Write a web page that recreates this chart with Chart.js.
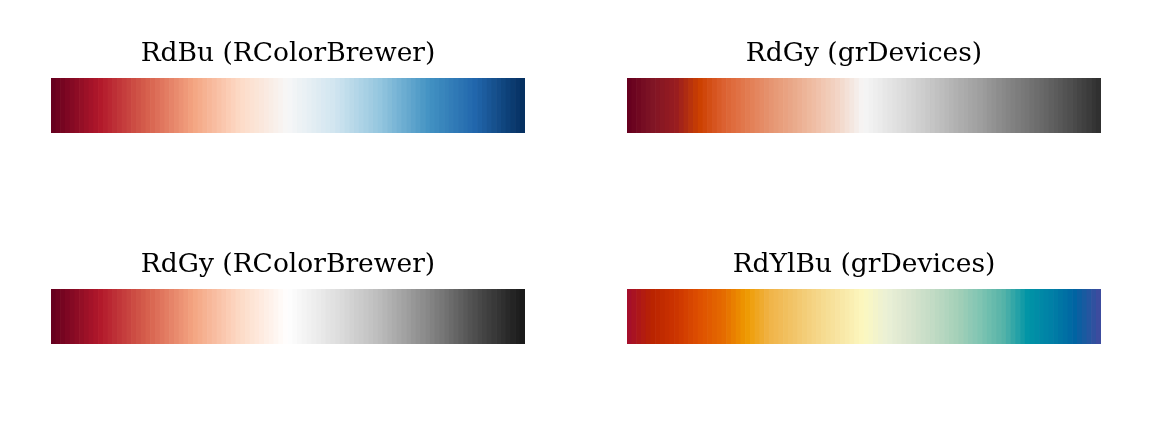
<!DOCTYPE html>
<html><head><meta charset="utf-8">
<script src="https://cdn.jsdelivr.net/npm/chart.js@4.4.1/dist/chart.umd.min.js"></script>
<style>
html,body{margin:0;padding:0;background:#fff;width:1152px;height:422px;overflow:hidden}
.panel{position:absolute}
canvas{display:block}
</style></head><body>
<div class="panel" id="p0"><canvas id="c0"></canvas></div>
<div class="panel" id="p1"><canvas id="c1"></canvas></div>
<div class="panel" id="p2"><canvas id="c2"></canvas></div>
<div class="panel" id="p3"><canvas id="c3"></canvas></div>
<script>
// ---- data ----
const titles = ["RdBu (RColorBrewer)", "RdGy (grDevices)", "RdGy (RColorBrewer)", "RdYlBu (grDevices)"];

// RColorBrewer palette stops (11 classes)
const rdbuBrewerStops = ["#67001F","#B2182B","#D6604D","#F4A582","#FDDBC7","#F7F7F7","#D1E5F0","#92C5DE","#4393C3","#2166AC","#053061"];
const rdgyBrewerStops = ["#67001F","#B2182B","#D6604D","#F4A582","#FDDBC7","#FFFFFF","#E0E0E0","#BABABA","#878787","#4D4D4D","#1A1A1A"];

// grDevices (hcl) palettes, every 5 %
const rdgyGrDevicesStops = ["#67001F","#801525","#981C20","#CC4000","#DC6030","#E27B50","#E69470","#EAA98A","#F0C0A8","#F3D8CA","#F6F6F6",
                            "#E6E6E6","#D6D6D6","#C4C4C4","#B0B0B0","#9E9E9E","#888888","#757575","#606060","#4A4A4A","#303030"];
const rdylbuGrDevicesStops = ["#A50F2A","#BA2400","#CC3400","#DE5000","#E56A00","#EE9A00","#F0B448","#F2C468","#F5D688","#F8E6A4","#FCF8C0",
                              "#EAF0D6","#D8E4CE","#C0DAC4","#A4D0B8","#7EC4B2","#52B2A8","#0094A6","#0080A6","#0064A2","#3C4C9E"];

const stripeCount = 100;
const paletteStops = [rdbuBrewerStops, rdgyGrDevicesStops, rdgyBrewerStops, rdylbuGrDevicesStops];

// ---- layout / style ----
const barLefts = [51, 627, 51, 627];
const barTops = [78, 78, 289, 289];
const barWidth = 474, barHeight = 55, titleBlock = 39;

function hexToRgb(h){ return [parseInt(h.slice(1,3),16), parseInt(h.slice(3,5),16), parseInt(h.slice(5,7),16)]; }
function ramp(stops, n){
  const rgb = stops.map(hexToRgb), out = [];
  for (let i = 0; i < n; i++){
    const t = i / (n - 1) * (rgb.length - 1);
    const k = Math.min(Math.floor(t), rgb.length - 2), f = t - k;
    const c = [0,1,2].map(j => Math.round(rgb[k][j] + (rgb[k+1][j] - rgb[k][j]) * f));
    out.push('rgb(' + c.join(',') + ')');
  }
  return out;
}

paletteStops.forEach((stops, p) => {
  const div = document.getElementById('p' + p);
  div.style.left = barLefts[p] + 'px';
  div.style.top = (barTops[p] - titleBlock) + 'px';
  const cv = document.getElementById('c' + p);
  cv.width = barWidth; cv.height = titleBlock + barHeight;
  cv.style.width = barWidth + 'px'; cv.style.height = (titleBlock + barHeight) + 'px';
  const colours = ramp(stops, stripeCount);
  new Chart(cv, {
    type: 'bar',
    data: {
      labels: colours.map((_, i) => i + 1),
      datasets: [{ data: colours.map(() => 1), backgroundColor: colours, borderWidth: 0,
                   barPercentage: 1, categoryPercentage: 1 }]
    },
    options: {
      responsive: false, animation: false, devicePixelRatio: 1,
      layout: { padding: 0 },
      plugins: {
        legend: { display: false }, tooltip: { enabled: false },
        title: { display: true, text: titles[p], color: '#000',
                 font: { family: 'DejaVu Serif', size: 26.5, weight: 'normal', lineHeight: '30px' },
                 padding: { top: 0, bottom: 9 } }
      },
      scales: {
        x: { display: false, grid: { display: false } },
        y: { display: false, min: 0, max: 1, grid: { display: false } }
      }
    }
  });
});
</script>
</body></html>
